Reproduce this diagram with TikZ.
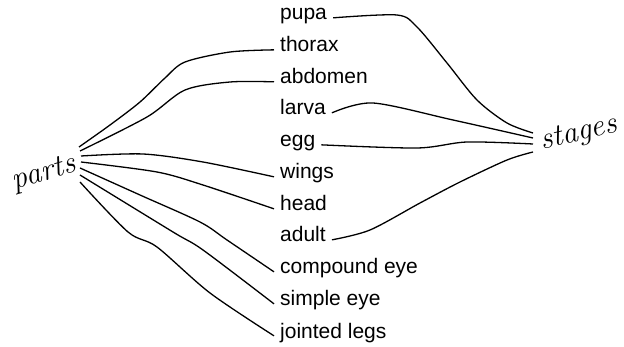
\documentclass[tikz,border=0pt]{standalone}
\usepackage{fontspec}
\newfontfamily\labelfont{Liberation Sans}
\newcommand{\lblsize}{\fontsize{21}{25}\selectfont}
\usepackage{tikz}

\begin{document}
\begin{tikzpicture}[x=1pt, y=-1pt,
    lbl/.style={font=\labelfont\lblsize, anchor=base west, inner xsep=6pt, inner ysep=1pt},
    hand/.style={font=\itshape\fontsize{31}{36}\selectfont, inner sep=0pt},
    wire/.style={line width=1.3pt}]

    \useasboundingbox (0, 0) rectangle (624, 347);

    % handwritten words
    \node[hand, rotate=16] (parts) at (44, 174) {parts};
    \node[hand, rotate=13] (stages) at (579, 134) {stages};

    % word list
    \node[lbl] (pupa) at (274, 20) {pupa};
    \node[lbl] (thorax) at (274, 52) {thorax};
    \node[lbl] (abdomen) at (274, 84) {abdomen};
    \node[lbl] (larva) at (274, 115) {larva};
    \node[lbl] (egg) at (274, 147) {egg};
    \node[lbl] (wings) at (274, 179) {wings};
    \node[lbl] (head) at (274, 211) {head};
    \node[lbl] (adult) at (274, 242) {adult};
    \node[lbl] (compound) at (274, 274) {compound eye};
    \node[lbl] (simple) at (274, 306) {simple eye};
    \node[lbl] (legs) at (274, 338) {jointed legs};

    % loose ends next to the handwriting
    \coordinate (p1) at (79, 147);
    \coordinate (p2) at (80, 151);
    \coordinate (p3) at (81, 156);
    \coordinate (p4) at (81, 162);
    \coordinate (p5) at (80, 168);
    \coordinate (p6) at (80, 175);
    \coordinate (p7) at (80, 182);

    \coordinate (s1) at (533, 133);
    \coordinate (s2) at (533, 138);
    \coordinate (s3) at (533, 144);
    \coordinate (s4) at (533, 152);

    % parts
    \draw[wire] plot[smooth] coordinates {(p1) (110, 125) (140, 102) (165, 78) (185, 62) (230, 52) (thorax.mid west)};
    \draw[wire] plot[smooth] coordinates {(p2) (147, 117) (185, 90) (230, 82) (abdomen.mid west)};
    \draw[wire] plot[smooth] coordinates {(p3) (143, 154) (203, 162) (wings.mid west)};
    \draw[wire] plot[smooth] coordinates {(p4) (157, 172) (203, 185) (head.mid west)};
    \draw[wire] plot[smooth] coordinates {(p5) (140, 195) (200, 222) (227, 240) (compound.mid west)};
    \draw[wire] plot[smooth] coordinates {(p6) (173, 232) (203, 250) (simple.mid west)};
    \draw[wire] plot[smooth] coordinates {(p7) (128, 232) (157, 247) (210, 293) (legs.mid west)};

    % stages
    \draw[wire] plot[smooth] coordinates {(pupa.mid east) (397, 15) (417, 27) (447, 63) (477, 100) (507, 123) (s1)};
    \draw[wire] plot[smooth] coordinates {(larva.mid east) (373, 103) (453, 120) (s2)};
    \draw[wire] plot[smooth] coordinates {(egg.mid east) (417, 148) (467, 142) (s3)};
    \draw[wire] plot[smooth] coordinates {(adult.mid east) (370, 230) (420, 203) (460, 182) (507, 160) (s4)};

\end{tikzpicture}
\end{document}
